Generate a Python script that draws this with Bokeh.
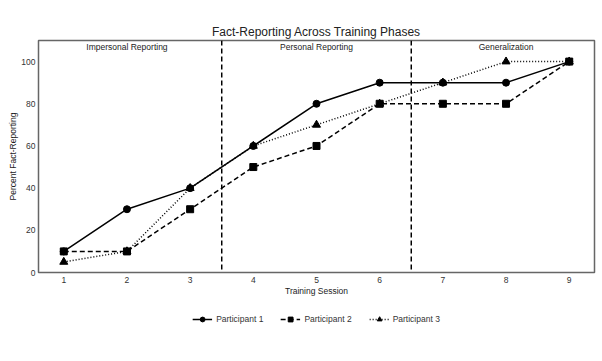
from bokeh.plotting import figure
from bokeh.layouts import column
from bokeh.models import Legend, LegendItem, Span, ColumnDataSource, FixedTicker, Range1d
from bokeh.core.properties import value
from bokeh.embed import file_html
from bokeh.resources import INLINE

sessions = [1, 2, 3, 4, 5, 6, 7, 8, 9]
participant1 = [10, 30, 40, 60, 80, 90, 90, 90, 100]
participant2 = [10, 10, 30, 50, 60, 80, 80, 80, 100]
participant3 = [5, 10, 40, 60, 70, 80, 90, 100, 100]
participant_names = ["Participant 1", "Participant 2", "Participant 3"]
phase_names = ["Impersonal Reporting", "Personal Reporting", "Generalization"]
phase_centers = [2, 5, 8]
phase_boundaries = [3.5, 6.5]
y_ticks = [0, 20, 40, 60, 80, 100]

FONT = "Liberation Sans"

p = figure(width=602, height=300, output_backend="svg", toolbar_location=None,
           x_range=Range1d(0.6, 9.4), y_range=Range1d(0, 110),
           title="Fact-Reporting Across Training Phases",
           min_border_left=38, min_border_right=8, min_border_top=40, min_border_bottom=28)

p.title.text_font = FONT
p.title.text_font_size = "12px"
p.title.text_font_style = "normal"
p.title.text_color = "#222222"
p.title.align = "center"
p.title.standoff = 3

p.grid.visible = False
p.background_fill_color = "white"
p.border_fill_color = "white"
p.outline_line_color = "#666666"
p.outline_line_width = 1.5

for ax in (p.xaxis[0], p.yaxis[0]):
    ax.axis_line_color = None
    ax.major_tick_line_color = None
    ax.minor_tick_line_color = None
    ax.major_tick_out = 0
    ax.major_tick_in = 0
    ax.minor_tick_out = 0
    ax.minor_tick_in = 0
    ax.major_label_text_font = FONT
    ax.major_label_text_font_size = "8.5px"
    ax.major_label_text_color = "#333333"
    ax.axis_label_text_font = FONT
    ax.axis_label_text_font_size = "8.5px"
    ax.axis_label_text_font_style = "normal"
    ax.axis_label_text_color = "#222222"

p.xaxis.ticker = FixedTicker(ticks=sessions)
p.yaxis.ticker = FixedTicker(ticks=y_ticks)
p.xaxis.axis_label = "Training Session"
p.yaxis.axis_label = "Percent Fact-Reporting"
p.xaxis.major_label_standoff = 4
p.yaxis.major_label_standoff = 3
p.xaxis.axis_label_standoff = 0
p.yaxis.axis_label_standoff = 0

for b in phase_boundaries:
    p.add_layout(Span(location=b, dimension="height", line_color="black",
                      line_width=1.5, line_dash="5 3"))

phase_src = ColumnDataSource(dict(x=phase_centers, y=[107] * len(phase_centers), t=phase_names))
p.text(x="x", y="y", text="t", source=phase_src, text_font=value(FONT),
       text_font_size="8.5px", text_align="center", text_baseline="middle", text_color="#222222")

styles = [("circle", 7, "solid"), ("square", 7, "5 3"), ("triangle", 8, "1 2")]
series = [participant1, participant2, participant3]

# legend strip below the chart; its renderers use the same data, kept outside its visible range
q = figure(width=602, height=38, output_backend="svg", toolbar_location=None,
           x_range=Range1d(-2, -1), y_range=Range1d(-2, -1),
           min_border_left=38, min_border_right=8, min_border_top=0, min_border_bottom=0)
q.axis.visible = False
q.grid.visible = False
q.outline_line_color = None

items = []
for name, ys, (mk, sz, dash) in zip(participant_names, series, styles):
    p.line(sessions, ys, line_color="black", line_width=1.5, line_dash=dash)
    p.scatter(sessions, ys, marker=mk, size=sz, color="black")
    ql = q.line(sessions, ys, line_color="black", line_width=1.5, line_dash=dash)
    qm = q.scatter(sessions, ys, marker=mk, size=sz, color="black")
    items.append(LegendItem(label=name, renderers=[ql, qm]))

legend = Legend(items=items, orientation="horizontal", location="center",
                border_line_color=None, background_fill_alpha=0,
                label_text_font=FONT, label_text_font_size="8.5px", label_text_color="#333333",
                glyph_width=20, glyph_height=12, label_standoff=4, spacing=17, margin=0, padding=4)
q.add_layout(legend)

open("out.html", "w").write(file_html(column(p, q, spacing=0), INLINE))
